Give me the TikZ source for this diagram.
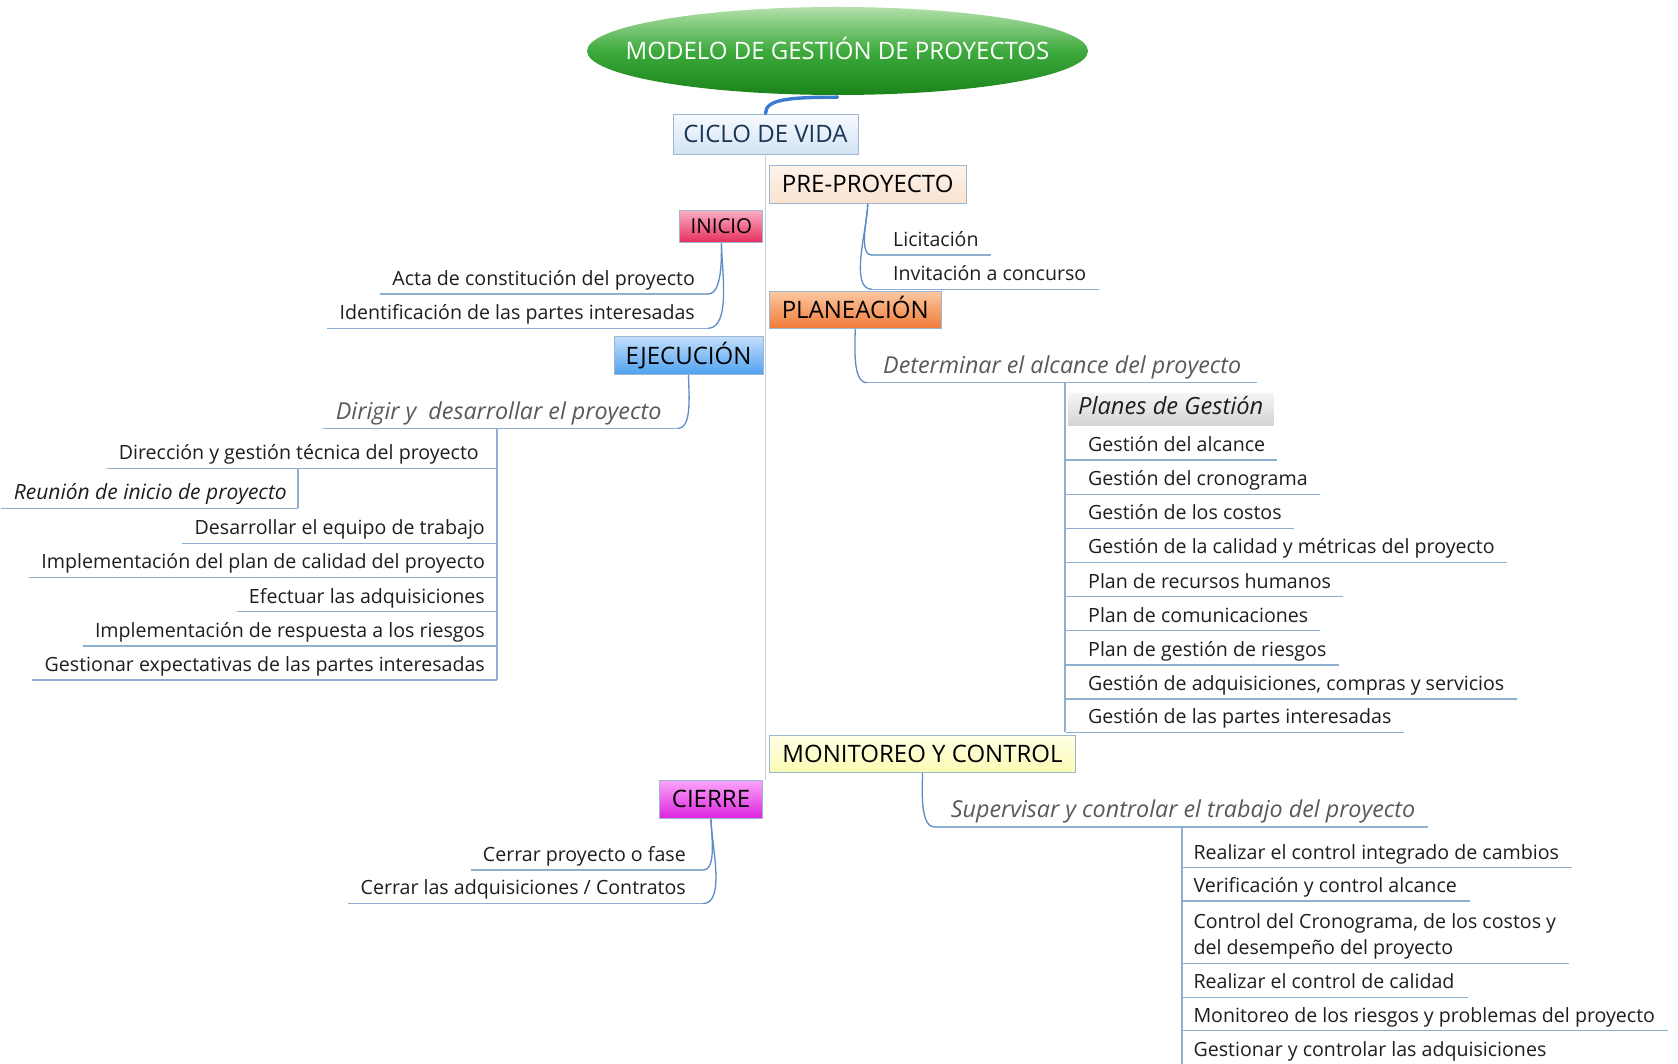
\documentclass[tikz,border=0pt]{standalone}
\usepackage{fontspec}
\setmainfont{Open Sans}
\usetikzlibrary{shapes.geometric}
\definecolor{conncol}{HTML}{5B8CC6}
\definecolor{ulcol}{HTML}{8FAFD0}
\definecolor{trunkcol}{HTML}{C3CFDB}
\definecolor{boxline}{HTML}{9DB6D2}
\definecolor{itemtxt}{HTML}{1E1E1E}
\definecolor{graytxt}{HTML}{595959}
\definecolor{cicloTxt}{HTML}{1B3556}
\definecolor{cicloTop}{HTML}{F7FAFE}\definecolor{cicloBot}{HTML}{D3E3F4}
\definecolor{preTop}{HTML}{FDF4EC}\definecolor{preBot}{HTML}{F9E1CE}
\definecolor{iniTop}{HTML}{FAB0C4}\definecolor{iniBot}{HTML}{E52D5C}
\definecolor{planTop}{HTML}{FCC7A0}\definecolor{planBot}{HTML}{F07A38}
\definecolor{ejeTop}{HTML}{C2DEFB}\definecolor{ejeBot}{HTML}{4FA2F0}
\definecolor{monTop}{HTML}{FFFFE6}\definecolor{monBot}{HTML}{FBFBB4}
\definecolor{ciTop}{HTML}{FBA6FB}\definecolor{ciBot}{HTML}{DD22DD}
\definecolor{pgTop}{HTML}{F5F5F5}\definecolor{pgBot}{HTML}{D3D3D3}
\definecolor{tTop}{HTML}{B2E0AA}\definecolor{tMid}{HTML}{3DAA3D}\definecolor{tBot}{HTML}{1A841A}
\definecolor{titlelink}{HTML}{3A7DD0}
\newcommand\fitem{\fontsize{19.6pt}{26.5pt}\selectfont}
\newcommand\fital{\fontsize{23.3pt}{27pt}\selectfont\itshape}
\newcommand\fpg{\fontsize{23.7pt}{27pt}\selectfont\itshape}
\newcommand\freu{\fontsize{21pt}{26pt}\selectfont\itshape}
\newcommand\fbx{\fontsize{24pt}{28pt}\selectfont}
\newcommand\fini{\fontsize{20.5pt}{24pt}\selectfont}
\newcommand\ftitle{\fontsize{24pt}{28pt}\selectfont}
\begin{document}
\begin{tikzpicture}[x=1pt,y=1pt,
  phase/.style={draw=boxline, line width=0.9pt, inner sep=0pt, font=\fbx, text=black, text height=17.2pt, text depth=0pt},
  ritem/.style={anchor=south west, inner xsep=0pt, inner ysep=3.5pt, text height=15pt, text depth=5pt, font=\fitem, text=itemtxt},
  litem/.style={ritem, anchor=south east},
  subi/.style={font=\fital, text=graytxt, inner ysep=4pt},
  uline/.style={draw=ulcol, line width=1.1pt},
  conn/.style={draw=conncol, line width=1.3pt},
  trunk/.style={draw=trunkcol, line width=1.6pt}]
\fill[white] (0,0) rectangle (1678,-1064);
\useasboundingbox (0,0) rectangle (1678,-1064);

% title
\node[ellipse, minimum width=501pt, minimum height=88pt, inner sep=0pt,
  top color=tTop, bottom color=tBot, middle color=tMid, text=white,
  font=\ftitle, text height=17.3pt, text depth=0pt] (title) at (837.5,-51) {\makebox[0pt]{MODELO DE GESTIÓN DE PROYECTOS}};

% phase boxes
\node[phase, top color=cicloTop, bottom color=cicloBot, text=cicloTxt, minimum width=185pt, minimum height=40pt] (ciclo) at (765.5,-134) {CICLO DE VIDA};
\node[phase, top color=preTop, bottom color=preBot, minimum width=197.4pt, minimum height=38.3pt] (pre) at (867.7,-184.2) {PRE-PROYECTO};
\node[phase, top color=iniTop, bottom color=iniBot, font=\fini, text height=14.7pt, minimum width=83pt, minimum height=32.7pt] (ini) at (721.4,-226.4) {INICIO};
\node[phase, top color=planTop, bottom color=planBot, minimum width=172.4pt, minimum height=36.6pt] (plan) at (855.2,-310) {PLANEACIÓN};
\node[phase, top color=ejeTop, bottom color=ejeBot, minimum width=149pt, minimum height=37.6pt] (eje) at (688.5,-355.5) {EJECUCIÓN};
\node[phase, top color=monTop, bottom color=monBot, minimum width=306.4pt, minimum height=37.3pt] (mon) at (922.5,-753.7) {MONITOREO Y CONTROL};
\node[phase, top color=ciTop, bottom color=ciBot, minimum width=103pt, minimum height=38.3pt] (cie) at (711,-799.2) {CIERRE};

\draw[trunk] (ciclo.south) -- (ciclo.south |- cie.north);
\draw[titlelink, line width=3.4pt, line cap=round] ([yshift=-2pt]title.south) .. controls +(-50,0) and +(0,14) .. (ciclo.north);

% PRE-PROYECTO
\node[ritem] (lic) at (893,-255) {Licitación};
\node[ritem] (inv) at (893,-289.3) {Invitación a concurso};
\foreach \n in {lic,inv}{\draw[uline] ([xshift=-21pt]\n.south west) -- ([xshift=12.5pt]\n.south east);
  \draw[conn] (pre.south) to[out=-90,in=180,looseness=0.7] ([xshift=-21pt]\n.south west);}

% INICIO
\node[litem] (acta) at (695,-294) {Acta de constitución del proyecto};
\node[litem] (ident) at (695,-328.3) {Identificación de las partes interesadas};
\foreach \n in {acta,ident}{\draw[uline] ([xshift=-12pt]\n.south west) -- ([xshift=13pt]\n.south east);
  \draw[conn] (ini.south) to[out=-90,in=0,looseness=0.7] ([xshift=13pt]\n.south east);}

% PLANEACION
\node[ritem, subi] (det) at (883,-382.7) {Determinar el alcance del proyecto};
\draw[uline] ([xshift=-16pt]det.south west) -- ([xshift=15pt]det.south east);
\draw[conn] (plan.south) to[out=-90,in=180,looseness=0.7] ([xshift=-16pt]det.south west);
\coordinate (plsp) at (1065,-382.7);
\node[top color=pgTop, bottom color=pgBot, inner sep=0pt, minimum width=205.6pt, minimum height=32.3pt,
  font=\fpg, text=itemtxt, text height=15pt, text depth=5pt] (pg) at (1170.8,-409.5) {Planes de Gestión};
\node[ritem] (g1) at (1088,-460) {Gestión del alcance};
\node[ritem] (g2) at (1088,-494.3) {Gestión del cronograma};
\node[ritem] (g3) at (1088,-528.3) {Gestión de los costos};
\node[ritem] (g4) at (1088,-562.3) {Gestión de la calidad y métricas del proyecto};
\node[ritem] (g5) at (1088,-596.7) {Plan de recursos humanos};
\node[ritem] (g6) at (1088,-630.7) {Plan de comunicaciones};
\node[ritem] (g7) at (1088,-665) {Plan de gestión de riesgos};
\node[ritem] (g8) at (1088,-699) {Gestión de adquisiciones, compras y servicios};
\node[ritem] (g9) at (1088,-732.3) {Gestión de las partes interesadas};
\foreach \n in {g1,g2,g3,g4,g5,g6,g7,g8,g9}{\draw[uline] ([xshift=-22pt]\n.south west) -- ([xshift=12pt]\n.south east);
  \draw[uline] (plsp) -- (plsp |- \n.south);}
\draw[uline] (plsp) -- (plsp |- pg.west);

% EJECUCION
\node[litem, subi] (dirig) at (661.7,-428.3) {Dirigir y~~desarrollar el proyecto};
\draw[uline] ([xshift=-13pt]dirig.south west) -- ([xshift=16.3pt]dirig.south east);
\draw[conn] (eje.south) to[out=-90,in=0,looseness=0.7] ([xshift=16.3pt]dirig.south east);
\coordinate (ejsp) at (497,-428.3);
\node[litem] (e1) at (479,-468.3) {Dirección y gestión técnica del proyecto};
\node[litem] (e2) at (485,-543.3) {Desarrollar el equipo de trabajo};
\node[litem] (e3) at (485,-577.3) {Implementación del plan de calidad del proyecto};
\node[litem] (e4) at (485,-611.7) {Efectuar las adquisiciones};
\node[litem] (e5) at (485,-646) {Implementación de respuesta a los riesgos};
\node[litem] (e6) at (485,-680) {Gestionar expectativas de las partes interesadas};
\foreach \n in {e1,e2,e3,e4,e5,e6}{\draw[uline] ([xshift=-12pt]\n.south west) -- (\n.south -| ejsp);
  \draw[uline] (ejsp) -- (ejsp |- \n.south);}
\node[litem, font=\freu] (reu) at (287,-508.3) {Reunión de inicio de proyecto};
\draw[uline] ([xshift=-13pt]reu.south west) -- ([xshift=11pt]reu.south east);
\draw[uline] ([xshift=11pt]reu.south east) -- ([xshift=11pt]reu.south east |- e1.south);

% MONITOREO
\node[ritem, subi] (sup) at (950.7,-827) {Supervisar y controlar el trabajo del proyecto};
\draw[uline] ([xshift=-16pt]sup.south west) -- ([xshift=12pt]sup.south east);
\draw[conn] (mon.south) to[out=-90,in=180,looseness=0.7] ([xshift=-16pt]sup.south west);
\coordinate (mnsp) at (1182,-827);
\node[ritem] (m1) at (1193.3,-867.7) {Realizar el control integrado de cambios};
\node[ritem] (m2) at (1193.3,-901) {Verificación y control alcance};
\node[ritem, align=left, text height={}, text depth={}] (m3) at (1193.3,-963.3) {Control del Cronograma, de los costos y\\del desempeño del proyecto};
\node[ritem] (m4) at (1193.3,-997.3) {Realizar el control de calidad};
\node[ritem] (m5) at (1193.3,-1030.7) {Monitoreo de los riesgos y problemas del proyecto};
\node[ritem] (m6) at (1193.3,-1065) {Gestionar y controlar las adquisiciones};
\foreach \n in {m1,m2,m3,m4,m5,m6}{\draw[uline] ([xshift=-11pt]\n.south west) -- ([xshift=13pt]\n.south east);
  \draw[uline] (mnsp) -- (mnsp |- \n.south);}

% CIERRE
\node[litem] (c1) at (686,-870) {Cerrar proyecto o fase};
\node[litem] (c2) at (686,-903.6) {Cerrar las adquisiciones / Contratos};
\foreach \n in {c1,c2}{\draw[uline] ([xshift=-12pt]\n.south west) -- ([xshift=17pt]\n.south east);
  \draw[conn] (cie.south) to[out=-90,in=0,looseness=0.7] ([xshift=17pt]\n.south east);}
\end{tikzpicture}
\end{document}
